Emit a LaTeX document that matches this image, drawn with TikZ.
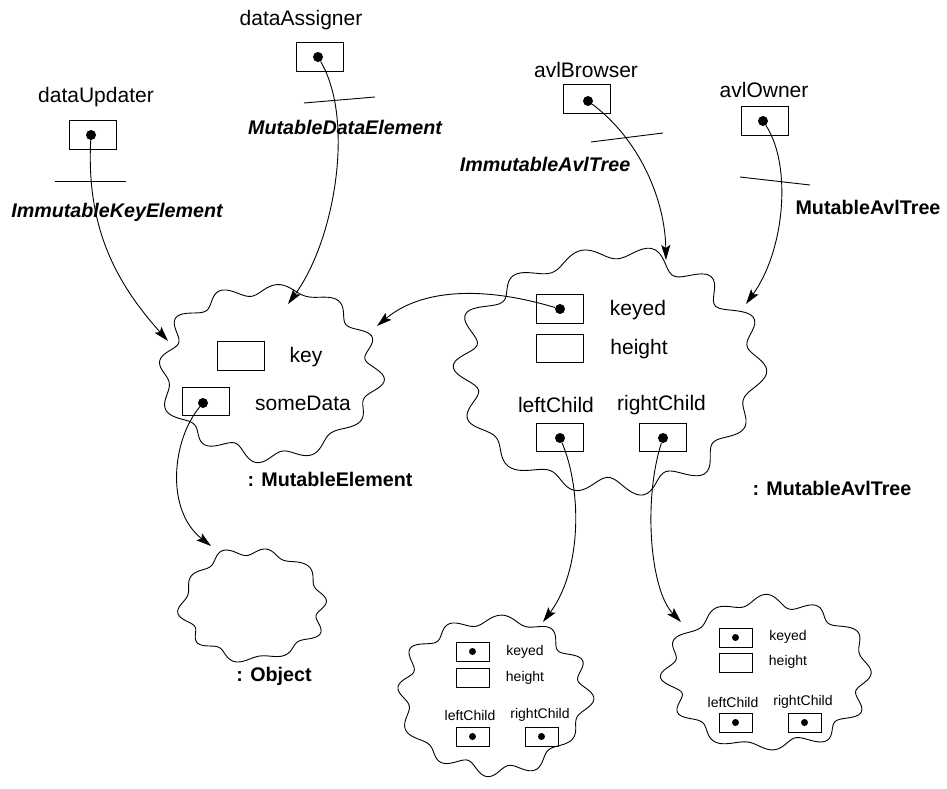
\documentclass[tikz,border=0pt]{standalone}
\usepackage{fontspec}
\setmainfont{Liberation Sans}
\usetikzlibrary{arrows.meta}

% wavy closed outline: centre x, centre y, radius x, radius y, phase, number of bumps
\newcommand\blobshape[6]{%
  \draw[blobline] plot[domain=0:358.5, samples=240, smooth cycle, variable=\t]
    ({#1+#3*(1+0.065*sin(#6*\t+#5)+0.02*sin(5*\t+2*#5)+0.015*sin((#6+3)*\t+3*#5))*cos(\t)},
     {#2+#4*(1+0.065*sin(#6*\t+#5)+0.02*sin(5*\t+2*#5)+0.015*sin((#6+3)*\t+3*#5))*sin(\t)});}

\tikzset{
  blobline/.style={line width=0.9pt},
  lbl/.style={inner sep=0pt, font=\fontsize{21}{25}\selectfont},
  tname/.style={inner sep=0pt, font=\fontsize{19.7}{24}\selectfont\bfseries\itshape},
  oname/.style={inner sep=0pt, font=\fontsize{19.7}{24}\selectfont\bfseries},
  slbl/.style={inner sep=0pt, font=\fontsize{14}{17}\selectfont},
  bx/.style={draw, line width=0.9pt, minimum width=47pt, minimum height=28.5pt, inner sep=0pt},
  sbx/.style={draw, line width=0.9pt, minimum width=33pt, minimum height=19pt, inner sep=0pt},
  pt/.style={circle, fill, inner sep=0pt, minimum size=10pt},
  spt/.style={circle, fill, inner sep=0pt, minimum size=7pt},
  bar/.style={line width=0.9pt},
  ref/.style={line width=0.9pt, -{Stealth[length=15pt, width=9pt, inset=3pt]}}
}

\begin{document}
\begin{tikzpicture}[x=1pt, y=-1pt]
\useasboundingbox (0,0) rectangle (947,789);

% ---- outlines of the objects ----
\blobshape{269}{372}{106}{84}{20}{12}
\blobshape{610}{371}{147}{117}{70}{14}
\blobshape{253}{605}{70}{54}{150}{10}
\blobshape{494}{695}{92}{76}{40}{12}
\blobshape{768}{674}{99}{73}{110}{12}

% ---- reference variables at the top ----
\node[lbl] (uLbl) at (96,97) {dataUpdater};
\node[bx] (uBox) at (92.5,135) {};
\node[pt] (uDot) at (91,135) {};
\draw[bar] (55,181) -- (126,181);
\node[tname] (uType) at (117,212) {ImmutableKeyElement};

\node[lbl] (aLbl) at (301,20) {dataAssigner};
\node[bx] (aBox) at (320,57) {};
\node[pt] (aDot) at (318,57) {};
\draw[bar] (304,103) -- (375,97);
\node[tname] (aType) at (345,127) {MutableDataElement};

\node[lbl] (bLbl) at (586,70) {avlBrowser};
\node[bx] (bBox) at (587,99) {};
\node[pt] (bDot) at (588,101) {};
\draw[bar] (591,142) -- (663,133);
\node[tname] (bType) at (545,164) {ImmutableAvlTree};

\node[lbl] (oLbl) at (764,90) {avlOwner};
\node[bx] (oBox) at (764.5,121) {};
\node[pt] (oDot) at (763,121) {};
\draw[bar] (740,177) -- (810,185);
\node[oname] (oType) at (868,207) {MutableAvlTree};

% ---- the element object ----
\node[bx] (keyBox) at (241,356) {};
\node[lbl] (keyLbl) at (306,357) {key};
\node[bx] (sdBox) at (206,401.5) {};
\node[pt] (sdDot) at (203,403) {};
\node[lbl] (sdLbl) at (303,403) {someData};
\node[oname] (elName) at (330,479) {: MutableElement};

% ---- the tree object ----
\node[bx] (kyBox) at (560,309) {};
\node[pt] (kyDot) at (560,309) {};
\node[lbl] (kyLbl) at (638,310) {keyed};
\node[bx] (htBox) at (560,348.5) {};
\node[lbl] (htLbl) at (639,349) {height};
\node[lbl] (lcLbl) at (556,405) {leftChild};
\node[lbl] (rcLbl) at (661.5,405) {rightChild};
\node[bx] (lcBox) at (560,437.5) {};
\node[pt] (lcDot) at (560,438) {};
\node[bx] (rcBox) at (663,437.5) {};
\node[pt] (rcDot) at (663,438) {};
\node[oname] (trName) at (832,488) {: MutableAvlTree};

% ---- the plain object ----
\node[oname] (obName) at (274,676) {: Object};

% ---- left subtree ----
\node[sbx] (l1) at (472.5,651.5) {};
\node[spt] at (l1) {};
\node[slbl] at (525,652) {keyed};
\node[sbx] (l2) at (472.5,677.5) {};
\node[slbl] at (525,678) {height};
\node[slbl] at (470,715) {leftChild};
\node[slbl] at (540,715) {rightChild};
\node[sbx] (l3) at (472.5,736.5) {};
\node[spt] at (l3) {};
\node[sbx] (l4) at (541.5,736.5) {};
\node[spt] at (l4) {};

% ---- right subtree ----
\node[sbx] (r1) at (735.5,637.5) {};
\node[spt] at (r1) {};
\node[slbl] at (788,637) {keyed};
\node[sbx] (r2) at (735.5,663) {};
\node[slbl] at (788,662) {height};
\node[slbl] at (733,702) {leftChild};
\node[slbl] at (803,702) {rightChild};
\node[sbx] (r3) at (735.5,722.5) {};
\node[spt] at (r3) {};
\node[sbx] (r4) at (804.5,722.5) {};
\node[spt] at (r4) {};

% ---- arrow targets on the outlines ----
\coordinate (elA) at (168,341);
\coordinate (elB) at (288,304);
\coordinate (elC) at (377,326);
\coordinate (trA) at (666,260);
\coordinate (trB) at (746,304);
\coordinate (obA) at (211,546);
\coordinate (stL) at (543,622);
\coordinate (stR) at (681,622);

% ---- references ----
\draw[ref] (uDot) .. controls (86,230) and (118,285) .. (elA);
\draw[ref] (aDot) .. controls (355,120) and (335,240) .. (elB);
\draw[ref] (bDot) .. controls (640,140) and (665,200) .. (trA);
\draw[ref] (oDot) .. controls (792,165) and (785,250) .. (trB);
\draw[ref] (kyDot) .. controls (480,285) and (420,290) .. (elC);
\draw[ref] (sdDot) .. controls (172,440) and (165,510) .. (obA);
\draw[ref] (lcDot) .. controls (582,490) and (582,570) .. (stL);
\draw[ref] (rcDot) .. controls (643,500) and (650,590) .. (stR);
\end{tikzpicture}
\end{document}
